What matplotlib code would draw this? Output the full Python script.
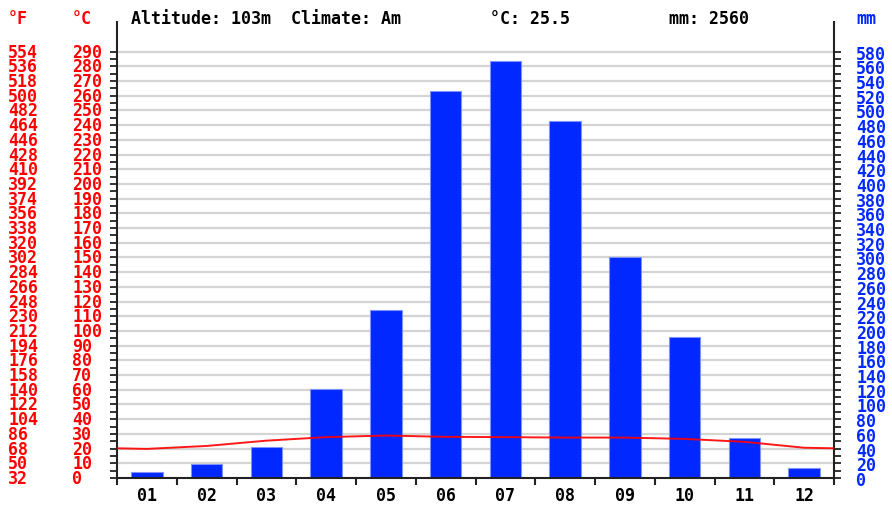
import numpy as np
import matplotlib
matplotlib.use("Agg")
import matplotlib.pyplot as plt
import matplotlib.transforms as mtransforms

# climate data
months = ["01", "02", "03", "04", "05", "06", "07", "08", "09", "10", "11", "12"]
precip_mm = [8, 19, 42, 121, 229, 526, 568, 486, 301, 192, 54, 14]
temp_c = [19.8, 21.8, 25.4, 27.8, 28.9, 28.0, 27.8, 27.5, 27.5, 26.6, 24.6, 20.6]
altitude = 103
climate = "Am"
mean_temp = 25.5
total_mm = 2560

celsius_ticks = list(range(0, 300, 10))
mm_ticks = list(range(0, 600, 20))

RED = "#ff0000"
BLUE = "#0028ff"
FONT = dict(family="DejaVu Sans Mono", weight="bold", size=12)

W, H = 892, 506
fig = plt.figure(figsize=(W / 100, H / 100), dpi=100)
ax = fig.add_axes([117 / W, 27 / H, (834 - 117) / W, (479 - 23) / H])

x = np.arange(1, 13)
# grid behind bars
for v in mm_ticks[1:]:
  ax.axhline(v, color="#d4d4d4", lw=1.6, zorder=0)

ax.bar(x, precip_mm, width=0.53, color=BLUE, edgecolor="#7f93ff", linewidth=0.8, zorder=2)

# temperature line, continued to the edges (mm = 2 * degC)
edge = (temp_c[0] + temp_c[-1]) / 2
tx = np.concatenate([[0.5], x, [12.5]])
ty = np.array([edge] + temp_c + [edge]) * 2
ax.plot(tx, ty, color=RED, lw=1.4, alpha=0.9, zorder=3)

ax.set_xlim(0.5, 12.5)
ax.set_ylim(0, 620.4)

for s in ["left", "right", "bottom"]:
  ax.spines[s].set_color("#222222")
  ax.spines[s].set_linewidth(1.5)
ax.spines["top"].set_visible(False)

ax.set_xticks(x)
ax.set_xticklabels(months, **FONT)
ax.set_xticks(np.arange(0.5, 13, 1), minor=True)
ax.tick_params(axis="x", which="major", length=0, pad=6)
ax.tick_params(axis="x", which="minor", length=5, width=1.5, color="#222222")

ax.set_yticks(mm_ticks)
ax.set_yticks(list(range(10, 590, 20)), minor=True)
ax.set_yticklabels([str(v) for v in mm_ticks], color=BLUE, **FONT)
ax.tick_params(axis="y", which="both", left=True, right=True, labelleft=False, labelright=True,
               length=5, width=1.3, color="#222222", direction="out", pad=11)

# left label columns: degF and degC
trans = mtransforms.blended_transform_factory(fig.transFigure, ax.transData)
for c in celsius_ticks:
  f = round(32 + 1.8 * c)
  ax.text(8 / W, c * 2, str(f), transform=trans, color=RED, ha="left", va="center", **FONT)
  ax.text(72 / W, c * 2, str(c), transform=trans, color=RED, ha="left", va="center", **FONT)

# header
hy = 1 - 19 / H
fig.text(8 / W, hy, "°F", color=RED, va="center", **FONT)
fig.text(72 / W, hy, "°C", color=RED, va="center", **FONT)
fig.text(131 / W, hy, f"Altitude: {altitude}m  Climate: {climate}", color="black", va="center", **FONT)
fig.text(490 / W, hy, f"°C: {mean_temp}", color="black", va="center", **FONT)
fig.text(669 / W, hy, f"mm: {total_mm}", color="black", va="center", **FONT)
fig.text(856 / W, hy, "mm", color=BLUE, va="center", **FONT)

fig.savefig("out.png", dpi=100)
